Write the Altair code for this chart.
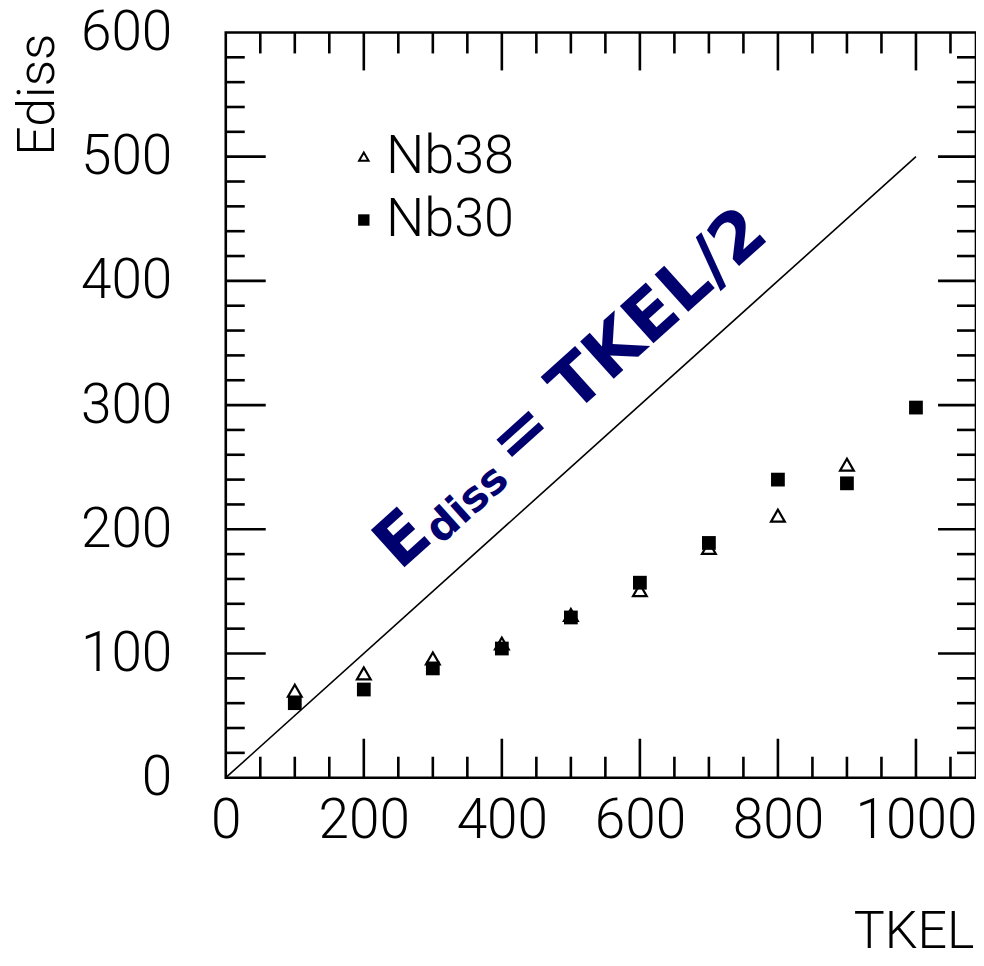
import altair as alt
import pandas as pd

# ---- data ----
tkel = [100, 200, 300, 400, 500, 600, 700, 800, 900, 1000]
nb38 = [70, 84, 96, 108, 131, 151, 185, 211, 252, None]
nb30 = [60, 71, 88, 104, 129, 157, 189, 240, 237, 298]

line_x = [0, 1000]
line_y = [0, 500]

x_labels = [0, 200, 400, 600, 800, 1000]
y_labels = [0, 100, 200, 300, 400, 500, 600]
x_major = [200, 400, 600, 800, 1000]
x_minor = [50, 100, 150, 250, 300, 350, 450, 500, 550, 650, 700, 750, 850, 900, 950, 1050]
y_major = [100, 200, 300, 400, 500]
y_minor = [v for v in range(20, 600, 20) if v % 100 != 0]

legend_names = ["Nb38", "Nb30"]
legend_x = [200, 200]
legend_y = [500, 449]
legend_text_x = [232, 232]

ann_x = [252]
ann_y = [166]

W, H = 751, 746
xs = alt.Scale(domain=[0, 1087], nice=False, zero=False)
ys = alt.Scale(domain=[0, 600], nice=False, zero=False)
LABEL_FONT = "Roboto"

pts38 = pd.DataFrame({"TKEL": tkel, "Edis": nb38}).dropna()
pts30 = pd.DataFrame({"TKEL": tkel, "Edis": nb30})
line_df = pd.DataFrame({"TKEL": line_x, "Edis": line_y})

x_axis = alt.Axis(values=x_labels, ticks=False, domain=False, grid=False,
                  labelFont=LABEL_FONT, labelFontWeight=300, labelFontSize=55,
                  labelPadding=17, labelColor="black", format="d",
                  labelFlush=False, labelOverlap=False,
                  title="TKEL", titleFont=LABEL_FONT, titleFontWeight=300,
                  titleFontSize=52, titleColor="black", titleX=749, titleY=170,
                  titleAlign="right", titleBaseline="alphabetic")
y_axis = alt.Axis(values=y_labels, ticks=False, domain=False, grid=False,
                  labelFont=LABEL_FONT, labelFontWeight=300, labelFontSize=55,
                  labelPadding=54, labelColor="black", format="d",
                  labelFlush=False, labelOverlap=False,
                  title="Ediss", titleFont=LABEL_FONT, titleFontWeight=300,
                  titleFontSize=52, titleColor="black", titleAngle=270,
                  titleX=-172, titleY=123, titleAlign="left",
                  titleBaseline="alphabetic")


def X(field):
    return alt.X(field, scale=xs, axis=x_axis)


def Y(field):
    return alt.Y(field, scale=ys, axis=y_axis)


line = alt.Chart(line_df).mark_line(color="black", strokeWidth=1.6).encode(
    x=X("TKEL:Q"), y=Y("Edis:Q"))

tri = alt.Chart(pts38).mark_point(shape="triangle-up", filled=True, fill="white",
                                  stroke="black", strokeWidth=2.2, size=190, opacity=1).encode(
    x=X("TKEL:Q"), y=Y("Edis:Q"))
sq = alt.Chart(pts30).mark_point(shape="square", filled=True, color="black",
                                 size=190, opacity=1).encode(
    x=X("TKEL:Q"), y=Y("Edis:Q"))


def tick_layer(vals, side, length):
    df = pd.DataFrame({"TKEL": vals, "Edis": vals})
    base = alt.Chart(df).mark_rule(color="black", strokeWidth=2.6)
    if side == "bottom":
        return base.encode(x=X("TKEL:Q"), y=alt.value(H), y2=alt.value(H - length))
    if side == "top":
        return base.encode(x=X("TKEL:Q"), y=alt.value(0), y2=alt.value(length))
    if side == "left":
        return base.encode(y=Y("Edis:Q"), x=alt.value(0), x2=alt.value(length))
    return base.encode(y=Y("Edis:Q"), x=alt.value(W), x2=alt.value(W - length))


ticks = [
    tick_layer(x_major, "bottom", 39), tick_layer(x_minor, "bottom", 21),
    tick_layer(x_major, "top", 38), tick_layer(x_minor, "top", 21),
    tick_layer(y_major, "left", 40), tick_layer(y_minor, "left", 19),
    tick_layer(y_major, "right", 38), tick_layer(y_minor, "right", 19),
]

leg_df = pd.DataFrame({"name": legend_names, "TKEL": legend_x, "Edis": legend_y,
                       "tx": legend_text_x})
leg_tri = alt.Chart(leg_df.iloc[[0]]).mark_point(shape="triangle-up", filled=True, fill="white",
                                                  stroke="black", strokeWidth=2, size=90, opacity=1).encode(
    x=X("TKEL:Q"), y=Y("Edis:Q"))
leg_sq = alt.Chart(leg_df.iloc[[1]]).mark_point(shape="square", filled=True, color="black",
                                                size=130, opacity=1).encode(
    x=X("TKEL:Q"), y=Y("Edis:Q"))
leg_txt = alt.Chart(leg_df).mark_text(font=LABEL_FONT, fontWeight=300, fontSize=54,
                                      align="left", baseline="middle", color="black").encode(
    x=X("tx:Q"), y=Y("Edis:Q"), text="name:N")

ann_df = pd.DataFrame({"TKEL": ann_x, "Edis": ann_y})
NAVY = "#00006e"
ANGLE = 318


def ann(text, size, dx, dy):
    return alt.Chart(ann_df).mark_text(text=text, font="DejaVu Sans", fontWeight="bold",
                                       fontSize=size, color=NAVY, angle=ANGLE,
                                       align="left", baseline="alphabetic",
                                       dx=dx, dy=dy).encode(
        x=X("TKEL:Q"), y=Y("Edis:Q"))


annot = [ann("E", 69, 0, 0), ann("diss", 42, 48, 8), ann("= TKEL/2", 69, 153, 0)]

chart = alt.layer(line, *ticks, tri, sq, leg_tri, leg_sq, leg_txt, *annot).properties(
    width=W, height=H,
    background="white",
    autosize=alt.AutoSizeParams(type="none"),
    padding={"left": 218, "top": 24, "right": 0, "bottom": 180},
).configure_view(stroke="black", strokeWidth=2.6)

chart.save("out.html", embed_options={"renderer": "svg", "actions": False})
